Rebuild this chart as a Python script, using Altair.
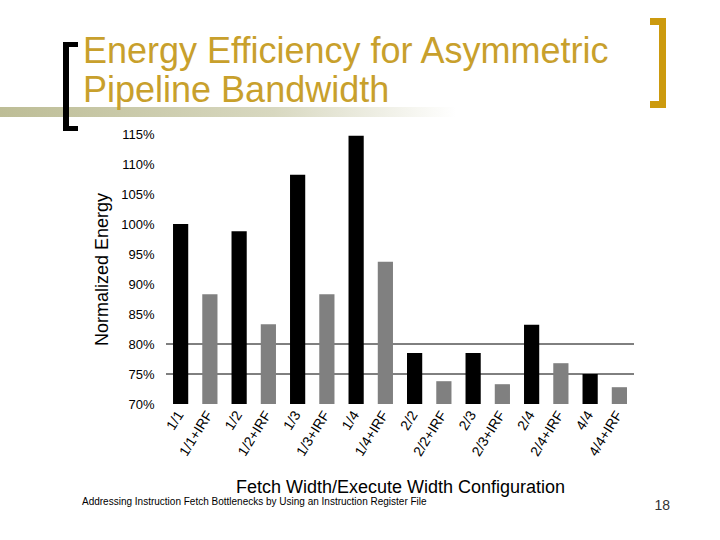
import altair as alt
import pandas as pd

configs = ["1/1", "1/1+IRF", "1/2", "1/2+IRF", "1/3", "1/3+IRF", "1/4", "1/4+IRF",
           "2/2", "2/2+IRF", "2/3", "2/3+IRF", "2/4", "2/4+IRF", "4/4", "4/4+IRF"]
energy = [1.000, 0.883, 0.988, 0.833, 1.082, 0.883, 1.147, 0.937,
          0.785, 0.738, 0.785, 0.733, 0.832, 0.768, 0.750, 0.728]
kind = ["base", "IRF"] * 8
y_ticks = [0.70, 0.75, 0.80, 0.85, 0.90, 0.95, 1.00, 1.05, 1.10, 1.15]
grid_vals = [0.75, 0.80]

title_lines = ["Energy Efficiency for Asymmetric", "Pipeline Bandwidth"]
footer = "Addressing Instruction Fetch Bottlenecks by Using an Instruction Register File"
page_no = "18"

df = pd.DataFrame({"config": configs, "energy": energy, "kind": kind})
grid_df = pd.DataFrame({"energy": grid_vals})
one = pd.DataFrame({"d": [0]})

FONT = "Liberation Sans"
GOLD_TXT = "#C8A02C"
GOLD = "#CC9A0E"

yscale = alt.Scale(domain=[0.70, 1.15], zero=False, nice=False)
y_axis = alt.Axis(values=y_ticks, format=".0%", title="Normalized Energy",
                  labelFontSize=13, labelFont=FONT, labelColor="black",
                  labelPadding=12, labelOverlap=False, ticks=False,
                  domain=False, grid=False,
                  titleFont=FONT, titleFontSize=18, titleFontWeight="normal",
                  titleColor="black", titleX=-59, titleBaseline="alphabetic")

bars = alt.Chart(df).mark_bar().encode(
    x=alt.X("config:N", sort=configs,
            scale=alt.Scale(paddingInner=0.48, paddingOuter=0.24),
            axis=alt.Axis(title="Fetch Width/Execute Width Configuration",
                          labelAngle=302, labelAlign="right", labelBaseline="middle",
                          labelPadding=8, labelFontSize=14, labelFont=FONT,
                          labelColor="black", labelOverlap=False, ticks=False, domain=False,
                          titleFont=FONT, titleFontSize=18, titleFontWeight="normal",
                          titleColor="black", titleY=88, titleBaseline="alphabetic")),
    y=alt.Y("energy:Q", scale=yscale, axis=y_axis),
    y2=alt.datum(0.70),
    color=alt.Color("kind:N", scale=alt.Scale(domain=["base", "IRF"],
                                              range=["#000000", "#808080"]),
                    legend=None),
)

grid = alt.Chart(grid_df).mark_rule(color="black", strokeWidth=1).encode(
    y=alt.Y("energy:Q", scale=yscale, axis=y_axis),
)

stripe = alt.Chart(one).mark_rect(
    color=alt.Gradient(gradient="linear",
                       stops=[alt.GradientStop(color="#BDBD96", offset=0),
                              alt.GradientStop(color="#D8D8C0", offset=0.6),
                              alt.GradientStop(color="#FFFFFF", offset=1)],
                       x1=0, x2=1, y1=0, y2=0)
).encode(x=alt.value(-166), x2=alt.value(290), y=alt.value(-27), y2=alt.value(-17))

def rect(x, x2, y, y2, c):
    return alt.Chart(one).mark_rect(color=c).encode(
        x=alt.value(x), x2=alt.value(x2), y=alt.value(y), y2=alt.value(y2))

brackets = [
    rect(-103, -97, -92, -3, "black"),
    rect(-103, -88, -92, -87, "black"),
    rect(-103, -88, -8, -3, "black"),
    rect(493, 500, -116, -26, GOLD),
    rect(484, 500, -116, -109, GOLD),
    rect(484, 500, -33, -26, GOLD),
]

t1 = alt.Chart(one).mark_text(text=title_lines[0], font=FONT, fontSize=36,
                               color=GOLD_TXT, align="left", baseline="alphabetic").encode(
    x=alt.value(-83), y=alt.value(-71))
t2 = alt.Chart(one).mark_text(text=title_lines[1], font=FONT, fontSize=36,
                               color=GOLD_TXT, align="left", baseline="alphabetic").encode(
    x=alt.value(-83), y=alt.value(-32))
foot = alt.Chart(one).mark_text(text=footer, font=FONT, fontSize=10,
                                 color="black", align="left", baseline="middle").encode(
    x=alt.value(-84), y=alt.value(368))
pg = alt.Chart(one).mark_text(text=page_no, font=FONT, fontSize=14,
                               color="#333333", align="right", baseline="middle").encode(
    x=alt.value(504), y=alt.value(372))

chart = alt.layer(stripe, *brackets, t1, t2, grid, bars, foot, pg).properties(
    width=468, height=270,
    autosize=alt.AutoSizeParams(type="none"),
    padding={"left": 166, "top": 134, "right": 86, "bottom": 136},
    background="white",
).configure_view(stroke=None)

chart.save("out.html", embed_options={"renderer": "svg", "actions": False})
